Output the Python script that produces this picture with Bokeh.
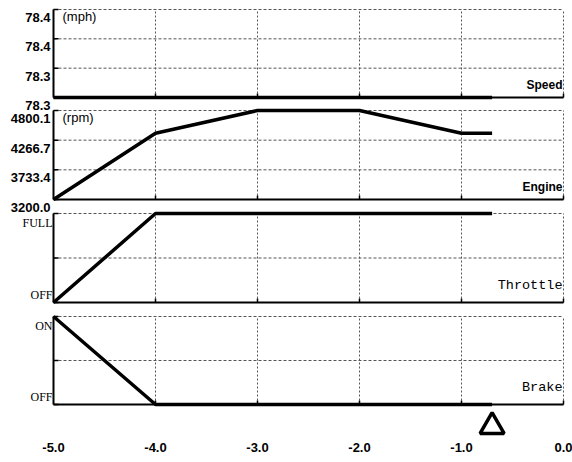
import math
from bokeh.plotting import figure
from bokeh.models import Range1d, FixedTicker
from bokeh.core.properties import value
from bokeh.embed import file_html
from bokeh.resources import INLINE

# ---- data ----
time = [-5.0, -4.0, -3.0, -2.0, -1.0, -0.7]
speed = [78.26, 78.26, 78.26, 78.26, 78.26, 78.26]
engine = [3200.0, 4390.0, 4800.0, 4800.0, 4390.0, 4390.0]
throttle = [0.0, 1.0, 1.0, 1.0, 1.0, 1.0]   # 0 = OFF, 1 = FULL
brake = [1.0, 0.0, 0.0, 0.0, 0.0, 0.0]      # 0 = OFF, 1 = ON
marker_time = [-0.7]

speed_ticks = [78.26, 78.31, 78.36, 78.41]
speed_tick_labels = ["78.3", "78.3", "78.4", "78.4"]
engine_ticks = [3200.0, 3733.4, 4266.7, 4800.1]
engine_tick_labels = ["3200.0", "3733.4", "4266.7", "4800.1"]
throttle_ticks = [0.0, 0.5, 1.0]
throttle_tick_labels = ["OFF", "", "FULL"]
brake_ticks = [0.0, 0.5, 1.0]
brake_tick_labels = ["OFF", "", "ON"]
x_ticks = [-5.0, -4.0, -3.0, -2.0, -1.0, 0.0]
x_tick_labels = ["-5.0", "-4.0", "-3.0", "-2.0", "-1.0", "0.0"]

# ---- layout (pixels) ----
W, H = 572, 462
AXIS_H = 26
FH = H - AXIS_H          # frame height
X0_PX, X1_PX = 53, 563   # where -5 and 0 sit
GRID = "#555555"
SANS = "Liberation Sans"
SERIF = "Liberation Serif"
MONO = "Liberation Mono"

xmin, xmax = x_ticks[0], x_ticks[-1]
xpp = (xmax - xmin) / (X1_PX - X0_PX)
x_range = Range1d(xmin - X0_PX * xpp, xmax + (W - X1_PX) * xpp)


def band_range(lo, hi, top_px, bot_px):
    per = (hi - lo) / (bot_px - top_px)
    return Range1d(lo - (FH - bot_px) * per, hi + top_px * per)


p = figure(width=W, height=H, x_range=x_range, y_range=Range1d(0, 1),
           output_backend="svg", toolbar_location=None,
           min_border=0, min_border_bottom=AXIS_H)
p.title.visible = False
p.outline_line_color = None
p.xgrid.visible = False
p.ygrid.visible = False
p.yaxis.visible = False

xa = p.xaxis[0]
xa.ticker = FixedTicker(ticks=x_ticks)
xa.major_label_overrides = {t: s for t, s in zip(x_ticks, x_tick_labels)}
xa.axis_line_color = None
xa.major_tick_line_color = None
xa.minor_tick_line_color = None
xa.major_label_standoff = 0
xa.major_label_text_font = SANS
xa.major_label_text_font_style = "bold"
xa.major_label_text_font_size = "13px"
xa.major_label_text_color = "black"

panels = [
    dict(key="speed", ys=speed, ticks=speed_ticks, labels=speed_tick_labels,
         band=(9, 97), name="Speed", font=SANS, style="bold", size="12px",
         name_dy=-13, kind="num", unit="(mph)"),
    dict(key="engine", ys=engine, ticks=engine_ticks, labels=engine_tick_labels,
         band=(110, 199), name="Engine", font=SANS, style="bold", size="12px",
         name_dy=-13, kind="num", unit="(rpm)"),
    dict(key="throttle", ys=throttle, ticks=throttle_ticks, labels=throttle_tick_labels,
         band=(213, 302), name="Throttle", font=MONO, style="normal", size="13.5px",
         name_dy=-17, kind="txt", unit=None),
    dict(key="brake", ys=brake, ticks=brake_ticks, labels=brake_tick_labels,
         band=(316, 404), name="Brake", font=MONO, style="normal", size="13.5px",
         name_dy=-17, kind="txt", unit=None),
]

p.extra_y_ranges = {
    **{d["key"]: band_range(d["ticks"][0], d["ticks"][-1], *d["band"]) for d in panels},
    "marker": band_range(0.0, 1.0, 425, 426),
}

for d in panels:
    rn = d["key"]
    ticks = d["ticks"]
    lo, hi = ticks[0], ticks[-1]
    # horizontal dashed grid (above the bottom line)
    p.segment(x0=xmin, x1=xmax, y0=ticks[1:], y1=ticks[1:], y_range_name=rn,
              line_color=GRID, line_width=1, line_dash="3 2")
    # vertical dotted grid, incl. right border
    p.segment(x0=x_ticks[1:], x1=x_ticks[1:], y0=lo, y1=hi, y_range_name=rn,
              line_color=GRID, line_width=1, line_dash="2 2")
    # solid left and bottom axis lines
    p.segment(x0=[xmin, xmin], x1=[xmin, xmax], y0=[lo, lo], y1=[hi, lo],
              y_range_name=rn, line_color="black", line_width=2)
    # inward ticks
    p.ray(x=xmin, y=ticks, length=5, angle=0, length_units="screen",
          y_range_name=rn, line_color="black", line_width=1.5)
    p.ray(x=x_ticks[1:], y=lo, length=4, angle=math.pi / 2, length_units="screen",
          y_range_name=rn, line_color="black", line_width=1.5)
    # data
    p.line(time, d["ys"], y_range_name=rn, line_color="black", line_width=3.5,
           line_join="round")
    # tick labels
    pairs = [(t, s) for t, s in zip(ticks, d["labels"]) if s]
    if d["kind"] == "num":
        p.text(x=xmin, y=[t for t, _ in pairs], text=[s for _, s in pairs],
               y_range_name=rn, x_offset=-3, y_offset=8,
               text_align="right", text_baseline="middle",
               text_font=value(SANS), text_font_style="bold",
               text_font_size="13px", text_color="black")
    else:
        top = [(t, s) for t, s in pairs if t == hi]
        bot = [(t, s) for t, s in pairs if t != hi]
        p.text(x=xmin, y=[t for t, _ in top], text=[s for _, s in top],
               y_range_name=rn, x_offset=-1, y_offset=2,
               text_align="right", text_baseline="top",
               text_font=value(SERIF), text_font_size="12px", text_color="black")
        p.text(x=xmin, y=[t for t, _ in bot], text=[s for _, s in bot],
               y_range_name=rn, x_offset=-1, y_offset=-1,
               text_align="right", text_baseline="bottom",
               text_font=value(SERIF), text_font_size="12px", text_color="black")
    if d["unit"]:
        p.text(x=xmin, y=hi, text=[d["unit"]], y_range_name=rn,
               x_offset=9, y_offset=7, text_align="left", text_baseline="middle",
               text_font=value(SANS), text_font_size="13px", text_color="black")
    p.text(x=xmax, y=lo, text=[d["name"]], y_range_name=rn,
           x_offset=-1, y_offset=d["name_dy"], text_align="right",
           text_baseline="middle", text_font=value(d["font"]),
           text_font_style=d["style"], text_font_size=d["size"], text_color="black")

# event marker below the panels
p.scatter(marker_time, [0.0], y_range_name="marker", marker="triangle", size=24,
          fill_color=None, line_color="black", line_width=3.5)

open("out.html", "w").write(file_html(p, INLINE))
